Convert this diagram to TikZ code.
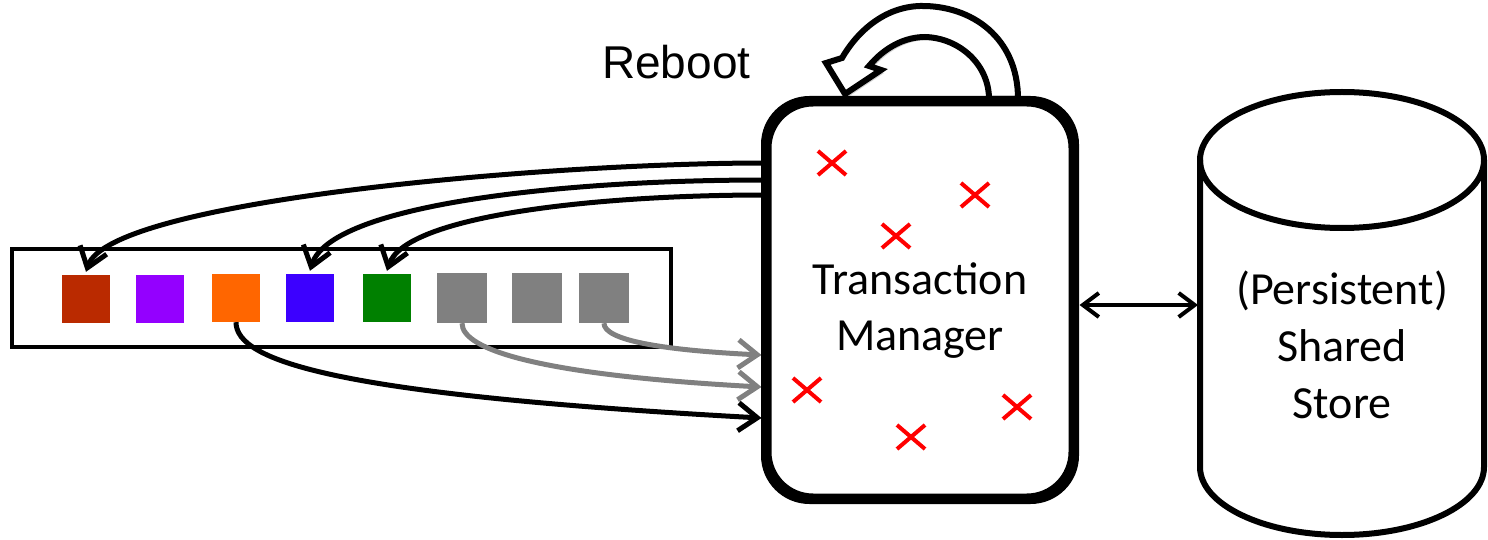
\documentclass[tikz,border=0pt]{standalone}
\usepackage{fontspec}
\setmainfont{Carlito}
\newfontfamily\arialf{Liberation Sans}
\usetikzlibrary{arrows.meta}
\definecolor{cRed}{RGB}{186,42,0}
\definecolor{cPurple}{RGB}{148,0,255}
\definecolor{cOrange}{RGB}{255,102,0}
\definecolor{cBlue}{RGB}{60,0,255}
\definecolor{cGreen}{RGB}{0,128,0}
\definecolor{cGray}{RGB}{128,128,128}
\definecolor{cX}{RGB}{255,0,0}
\begin{document}
\begin{tikzpicture}[x=1pt,y=-1pt,
  tmbox/.style={draw, line width=7pt, rounded corners=45pt, minimum width=304pt, minimum height=394pt, inner sep=0pt},
  sq/.style={minimum width=48pt, minimum height=48pt, inner sep=0pt},
  gsq/.style={minimum width=50pt, minimum height=50pt, inner sep=0pt, fill=cGray},
  link/.style={line width=5pt, -{Straight Barb[length=19pt,width=28pt]}},
  glink/.style={link, draw=cGray},
  xmark/.style={draw=cX, line width=4pt},
  bigtxt/.style={font=\fontsize{46}{56}\selectfont, align=center, inner sep=0pt}
]
\useasboundingbox (0,0) rectangle (1488,540);

% queue rectangle
\draw[line width=3.5pt] (12,249) rectangle (671,347);

% squares
\node[sq, fill=cRed]    (s1) at (86,299) {};
\node[sq, fill=cPurple] (s2) at (160,299) {};
\node[sq, fill=cOrange] (s3) at (236,298) {};
\node[sq, fill=cBlue]   (s4) at (310,298) {};
\node[sq, fill=cGreen]  (s5) at (387,298) {};
\node[gsq] (s6) at (462,298) {};
\node[gsq] (s7) at (537,298) {};
\node[gsq] (s8) at (604,298) {};

% transaction manager
\node[tmbox] (tm) at (920,300) {};
\node[bigtxt] (tmt) at (920,311) {Transaction\\Manager};

% reboot arrow (shadow, then arrow)
\fill[black!18, shift={(3,3)}]
  (1018,99) .. controls (1018,38) and (972,5) .. (920,6)
  .. controls (884,7) and (857,32) .. (842,58)
  -- (826,63) -- (845,94) -- (881,70) -- (869,66)
  .. controls (885,47) and (905,37) .. (925,37)
  .. controls (960,38) and (989,65) .. (989,99) -- cycle;
\draw[line width=6pt, fill=white, line join=miter]
  (1018,99) .. controls (1018,38) and (972,5) .. (920,6)
  .. controls (884,7) and (857,32) .. (842,58)
  -- (826,63) -- (845,94) -- (881,70) -- (869,66)
  .. controls (885,47) and (905,37) .. (925,37)
  .. controls (960,38) and (989,65) .. (989,99) -- cycle;
\node[font=\arialf\fontsize{46}{56}\selectfont, inner sep=0pt, anchor=base west] (reboot) at (602,79) {Reboot};

% cylinder
\draw[line width=6pt, fill=white]
  (1200,160) -- (1200,467) arc[start angle=180, end angle=360, x radius=142pt, y radius=68pt]
  -- (1484,160) arc[start angle=0, end angle=180, x radius=142pt, y radius=68pt] -- cycle;
\draw[line width=6pt] (1200,160) arc[start angle=180, end angle=360, x radius=142pt, y radius=68pt];
\coordinate (storeW) at (1198,305);
\node[bigtxt, font=\fontsize{46}{57}\selectfont] (store) at (1342,345) {(Persistent)\\Shared\\Store};

% links from TM to queue
\draw[link] ([yshift=137pt]tm.west) .. controls (550,163) and (110,200) .. ([yshift=3pt]s1.north);
\draw[link] ([yshift=120pt]tm.west) .. controls (560,180) and (330,205) .. ([yshift=3pt]s4.north);
\draw[link] ([yshift=105pt]tm.west) .. controls (600,195) and (405,215) .. ([yshift=3pt]s5.north);

% links from queue to TM
\draw[link] (s3.south) .. controls (236,362) and (340,395) .. ([xshift=-3pt,yshift=-118pt]tm.west);
\draw[glink] (s6.south) .. controls (462,350) and (540,375) .. ([xshift=-3pt,yshift=-87pt]tm.west);
\draw[glink] (s8.south) .. controls (604,340) and (660,350) .. ([xshift=-3pt,yshift=-55pt]tm.west);

% redraw TM border on top
\draw[line width=7pt, rounded corners=45pt] (tm.south west) rectangle (tm.north east);

% TM <-> store
\draw[line width=4pt, {Straight Barb[length=16pt,width=24pt]}-{Straight Barb[length=16pt,width=24pt]}] ([xshift=4pt]tm.east |- storeW) -- (storeW);

% crosses
\foreach \cx/\cy in {832/163, 975/195, 896/236, 807/390, 1017/407, 911/437}
  \draw[xmark] (\cx-14,\cy-12) -- (\cx+14,\cy+12) (\cx-14,\cy+12) -- (\cx+14,\cy-12);
\end{tikzpicture}
\end{document}
